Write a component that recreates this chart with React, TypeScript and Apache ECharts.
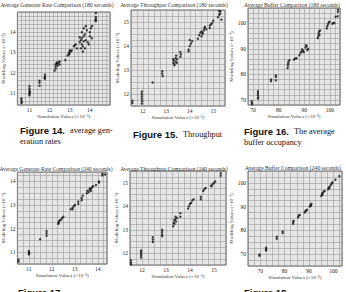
import React, { useEffect, useRef } from "react";
import * as echarts from "echarts";

// ---- Data (simulation value, modeling value) ----
const genRate180: [number, number][] = [
  [10.6, 10.72], [10.6, 10.65], [10.62, 10.55], [10.6, 10.5],
  [11.0, 11.32], [11.0, 11.2], [11.0, 11.1], [11.0, 11.0], [11.0, 10.95], [11.0, 10.88], [11.02, 11.05],
  [11.5, 11.6], [11.5, 11.5], [11.5, 11.35],
  [11.77, 11.9], [11.77, 11.8], [11.77, 11.7], [11.75, 11.75],
  [12.25, 12.1], [12.3, 12.4], [12.3, 12.3], [12.35, 12.45], [12.35, 12.5], [12.4, 12.35], [12.4, 12.45], [12.45, 12.5], [12.5, 12.55], [12.5, 12.4], [12.3, 12.2],
  [12.78, 12.62],
  [12.9, 12.85], [12.95, 13.0], [13.0, 13.1], [13.05, 13.05], [12.95, 12.9], [13.1, 13.1], [13.0, 12.95],
  [13.2, 13.3], [13.3, 13.4], [13.35, 13.2], [13.25, 13.35],
  [13.5, 13.5], [13.55, 13.6], [13.6, 13.4], [13.6, 13.7], [13.65, 13.3], [13.7, 13.8], [13.7, 13.55], [13.75, 13.9], [13.8, 14.3], [13.8, 13.6], [13.85, 14.1], [13.55, 13.2], [13.65, 13.05], [13.75, 13.2], [13.9, 13.5], [13.6, 14.0], [13.7, 14.2], [13.5, 13.75],
  [14.0, 14.0], [14.05, 14.2], [13.95, 13.4], [14.1, 13.7], [14.0, 13.8], [14.1, 14.3],
  [14.3, 14.95], [14.3, 14.75], [14.3, 14.65], [14.3, 14.55], [14.28, 14.6],
];

const throughput180: [number, number][] = [
  [11.56, 11.72], [11.56, 11.62],
  [11.96, 12.1], [11.96, 12.0], [11.96, 11.9], [11.96, 11.8], [11.97, 11.7], [11.96, 11.6],
  [12.42, 12.48],
  [12.83, 12.95], [12.83, 12.85], [12.85, 12.75],
  [13.3, 13.3], [13.32, 13.4], [13.35, 13.25], [13.4, 13.35], [13.4, 13.5], [13.45, 13.3], [13.45, 13.45], [13.35, 13.2], [13.3, 13.45], [13.42, 13.6],
  [13.6, 13.75], [13.62, 13.65], [13.6, 13.55],
  [13.95, 13.85], [14.0, 14.0], [14.05, 14.1], [14.1, 14.2], [14.0, 14.25], [13.95, 13.78],
  [14.35, 14.3], [14.4, 14.45], [14.45, 14.55], [14.5, 14.4], [14.5, 14.6],
  [14.55, 14.5], [14.6, 14.65], [14.62, 14.75], [14.65, 14.8], [14.7, 14.7], [14.55, 14.55],
  [14.85, 14.75], [14.9, 14.9], [14.95, 14.95], [15.0, 15.05], [14.85, 14.85],
  [15.2, 15.2], [15.25, 15.3], [15.3, 15.35], [15.3, 15.45], [15.35, 15.1], [15.25, 15.45],
];

const buffer180: [number, number][] = [
  [69.4, 69.5], [69.5, 68.8], [69.6, 68.3],
  [71.9, 73.4], [71.9, 72.6], [71.9, 71.8], [72.0, 71.0], [71.9, 70.5],
  [77, 78], [77, 77.3],
  [78.9, 79.6], [78.9, 79], [78.9, 77.7],
  [83.5, 82.5], [83.6, 83.5], [83.7, 84.2], [83.8, 85], [84.2, 85.5],
  [86, 85.8], [86.5, 86.2], [87, 86.3],
  [88.1, 87.5],
  [88.6, 88.5], [89, 89], [89.2, 89.8], [89.5, 89.3], [89.8, 88.7],
  [90.5, 90.5], [91, 91], [91.5, 90], [91.2, 89.5], [90.7, 91.4],
  [95.3, 94.2], [95.5, 95], [95.6, 96], [95.8, 96.8], [96.0, 95.5], [96.2, 97.2],
  [98.8, 98], [99, 98.8], [99.3, 99.6], [99.6, 100.3], [99.9, 100.6],
  [101, 99.8], [101.5, 100.2], [101.8, 100],
  [102.3, 102.6],
  [103.2, 105.3], [103.2, 104.5], [103.1, 102.8],
];

const genRate240: [number, number][] = [
  [10.55, 10.68], [10.55, 10.6],
  [11.0, 11.05], [11.0, 10.98], [11.0, 10.9], [11.02, 10.95],
  [11.49, 11.55],
  [11.77, 11.9], [11.77, 11.8], [11.77, 11.7],
  [12.28, 12.2], [12.3, 12.3], [12.35, 12.35], [12.4, 12.38], [12.45, 12.45], [12.5, 12.5], [12.3, 12.25],
  [12.82, 12.82], [12.9, 12.88], [12.95, 12.95], [13.0, 13.0], [12.9, 12.82],
  [13.15, 13.15], [13.15, 13.05],
  [13.3, 13.3], [13.3, 13.2], [13.35, 13.4],
  [13.52, 13.5], [13.55, 13.6], [13.6, 13.55], [13.65, 13.65], [13.7, 13.7], [13.75, 13.75], [13.8, 13.8], [13.7, 13.6], [13.65, 13.7],
  [13.92, 13.85],
  [14.05, 14.0], [14.05, 13.95],
  [14.2, 14.25], [14.2, 14.32],
  [14.32, 14.3],
];

const throughput240: [number, number][] = [
  [11.54, 11.7], [11.54, 11.6], [11.54, 11.52],
  [11.96, 12.12], [11.96, 12.05], [11.96, 11.98], [11.96, 11.9], [11.96, 11.82],
  [12.45, 12.68], [12.45, 12.58], [12.45, 12.48],
  [12.84, 13.0], [12.84, 12.9], [12.84, 12.8], [12.84, 12.72],
  [13.3, 13.15], [13.32, 13.3], [13.35, 13.4], [13.38, 13.45], [13.4, 13.55], [13.42, 13.35], [13.45, 13.5], [13.35, 13.25],
  [13.6, 13.7], [13.6, 13.55],
  [13.92, 13.9], [13.95, 14.0], [14.0, 14.1], [14.05, 14.15], [14.1, 14.25], [14.15, 14.3],
  [14.45, 14.3], [14.45, 14.4],
  [14.55, 14.65], [14.6, 14.72], [14.65, 14.78],
  [14.88, 14.88], [14.95, 14.95], [15.0, 15.0], [15.05, 15.05], [14.9, 14.85],
  [15.28, 15.3], [15.28, 15.4],
];

const buffer240: [number, number][] = [
  [69.7, 69.8], [69.7, 69.3],
  [72.4, 72.7], [72.4, 72.0], [72.4, 71.5],
  [76.8, 77.3], [76.8, 76.5],
  [79.2, 79.5], [79.2, 78.9],
  [83.5, 82.8], [83.5, 83.5], [83.7, 84],
  [85.5, 85.5], [85.8, 86.2], [86.2, 86.5],
  [88.2, 87.5], [88.5, 88], [88.8, 88.4], [89.2, 88.7],
  [90.3, 90], [90.6, 90.8], [91, 91.2], [90.8, 90.3],
  [95, 94.5], [95.3, 95.3], [95.6, 95.8], [96, 96.3], [96.4, 96.6], [95.5, 95],
  [97.8, 97.3], [98.1, 98], [98.5, 98.5], [99, 99.2], [98.3, 97.7],
  [99.3, 99.8], [99.6, 100.2],
  [100.8, 101.3],
  [102.4, 102.8],
];

const titles = [
  "Average Generate Rate Comparison (180 seconds)",
  "Average Throughput Comparison (180 seconds)",
  "Average Buffer Comparison (180 seconds)",
  "Average Generate Rate Comparison (240 seconds)",
  "Average Throughput Comparison (240 seconds)",
  "Average Buffer Comparison (240 seconds)",
];
const xNames = [
  "Simulation Values (×10⁻³)",
  "Simulation Values (×10⁻³)",
  "Simulation Values (×10⁻²)",
  "Simulation Values (×10⁻³)",
  "Simulation Values (×10⁻³)",
  "Simulation Values (×10⁻²)",
];
const yNames = [
  "Modeling Values (×10⁻³)",
  "Modeling Values (×10⁻³)",
  "Modeling Values (×10⁻²)",
  "Modeling Values (×10⁻³)",
  "Modeling Values (×10⁻³)",
  "Modeling Values (×10⁻²)",
];

const SERIF = '"Liberation Serif", "DejaVu Serif", serif';
const SANS = '"Liberation Sans", Arial, sans-serif';

type Panel = {
  data: [number, number][];
  grid: { left: number; top: number; width: number; height: number };
  x: { min: number; max: number; step: number; major: number };
  y: { min: number; max: number; step: number; major: number };
  titleX: number;
  titleY: number;
};

const panels: Panel[] = [
  { data: genRate180, grid: { left: 15, top: 12, width: 95, height: 93 }, x: { min: 10.4, max: 15.0, step: 0.2, major: 1 }, y: { min: 10.4, max: 15.0, step: 0.2, major: 1 }, titleX: 57, titleY: 5 },
  { data: throughput180, grid: { left: 131, top: 10, width: 94, height: 96 }, x: { min: 11.5, max: 15.5, step: 0.25, major: 1 }, y: { min: 11.5, max: 15.5, step: 0.25, major: 1 }, titleX: 174, titleY: 5 },
  { data: buffer180, grid: { left: 248, top: 8, width: 92, height: 97 }, x: { min: 68, max: 104, step: 2, major: 10 }, y: { min: 68, max: 106, step: 2, major: 10 }, titleX: 292, titleY: 5 },
  { data: genRate240, grid: { left: 15, top: 172, width: 92, height: 92 }, x: { min: 10.5, max: 14.4, step: 0.25, major: 1 }, y: { min: 10.5, max: 14.4, step: 0.25, major: 1 }, titleX: 56, titleY: 169 },
  { data: throughput240, grid: { left: 130, top: 171, width: 96, height: 94 }, x: { min: 11.5, max: 15.5, step: 0.25, major: 1 }, y: { min: 11.5, max: 15.5, step: 0.25, major: 1 }, titleX: 174, titleY: 169 },
  { data: buffer240, grid: { left: 248, top: 171, width: 94, height: 95 }, x: { min: 65, max: 103.5, step: 2.5, major: 10 }, y: { min: 65, max: 105, step: 2.5, major: 10 }, titleX: 293, titleY: 168 },
];

function majorFormatter(major: number) {
  return (v: number) => {
    const r = v / major;
    return Math.abs(r - Math.round(r)) < 1e-6 ? String(Math.round(v)) : "";
  };
}

function axis(i: number, cfg: Panel["x"], name: string, isY: boolean) {
  return {
    type: "value",
    gridIndex: i,
    min: cfg.min,
    max: cfg.max,
    interval: cfg.step,
    name,
    nameLocation: "middle",
    nameGap: isY ? 10 : 8,
    nameTextStyle: { fontSize: 5, fontFamily: SERIF, color: "#333" },
    axisLine: { show: false },
    axisTick: { show: false },
    axisLabel: {
      fontSize: 5.5,
      fontFamily: SERIF,
      color: "#222",
      margin: 2,
      formatter: majorFormatter(cfg.major),
      showMinLabel: false,
      showMaxLabel: false,
    },
    splitLine: { show: true, lineStyle: { color: "#8e8e8e", width: 0.5 } },
  };
}

function captionText(x: number, y: number, text: string, bold: boolean) {
  return {
    type: "text",
    x,
    y,
    silent: true,
    style: {
      text,
      fill: "#111",
      fontSize: bold ? 9.5 : 8.3,
      fontWeight: bold ? "bold" : "normal",
      fontFamily: bold ? SANS : SERIF,
      textVerticalAlign: "middle",
      verticalAlign: "middle",
    },
  };
}

export default function App() {
  const ref = useRef<HTMLDivElement>(null);
  useEffect(() => {
    if (!ref.current) return;
    const chart = echarts.init(ref.current, undefined, { renderer: "svg" });
    const option: any = {
      animation: false,
      backgroundColor: "#ffffff",
      grid: panels.map((p) => ({
        ...p.grid,
        show: true,
        backgroundColor: "#e6e6e6",
        borderColor: "#444",
        borderWidth: 0.8,
        containLabel: false,
      })),
      xAxis: panels.map((p, i) => axis(i, p.x, xNames[i], false)),
      yAxis: panels.map((p, i) => axis(i, p.y, yNames[i], true)),
      series: panels.map((p, i) => ({
        type: "scatter",
        xAxisIndex: i,
        yAxisIndex: i,
        data: p.data,
        symbol: "circle",
        symbolSize: 2.4,
        itemStyle: { color: "#111" },
        z: 5,
      })),
      graphic: [
        ...panels.map((p, i) => ({
          type: "text",
          x: p.titleX,
          y: p.titleY,
          silent: true,
          style: {
            text: titles[i],
            fill: "#333",
            fontSize: 5.6,
            fontFamily: SERIF,
            textAlign: "center",
            align: "center",
            textVerticalAlign: "middle",
            verticalAlign: "middle",
          },
        })),
        captionText(20, 130, "Figure 14.", true),
        captionText(70, 130, "average gen-", false),
        captionText(20, 141, "eration rates", false),
        captionText(133, 134, "Figure 15.", true),
        captionText(183, 134, "Throughput", false),
        captionText(244, 131, "Figure 16.", true),
        captionText(294, 131, "The average", false),
        captionText(244, 142, "buffer occupancy", false),
        captionText(18, 292, "Figure 17.", true),
        captionText(244, 292, "Figure 18.", true),
      ],
    };
    chart.setOption(option);
    return () => chart.dispose();
  }, []);
  return (
    <div
      ref={ref}
      style={{ position: "fixed", left: 0, top: 0, width: 346, height: 292, background: "#fff" }}
    />
  );
}
